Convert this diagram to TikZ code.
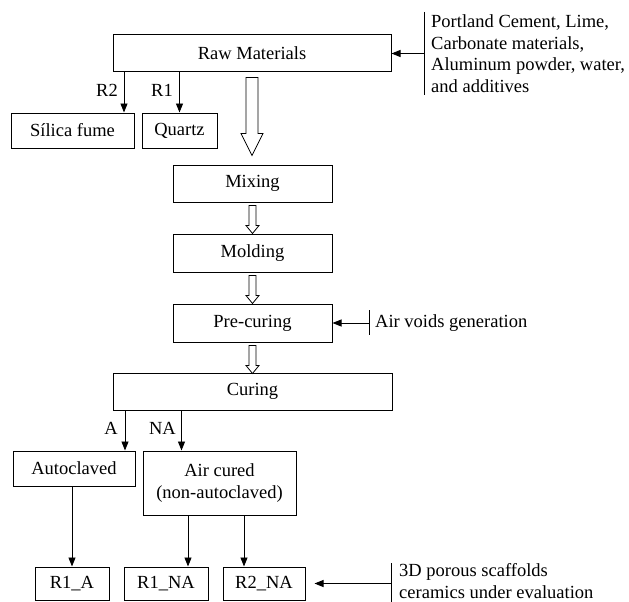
\documentclass[tikz,border=0pt]{standalone}
\usepackage{fontspec}
\setmainfont{Liberation Serif}
\usetikzlibrary{arrows.meta,calc}
\begin{document}
\begin{tikzpicture}[x=1pt,y=-1pt,
  every node/.style={font=\fontsize{18.5}{21.5}\selectfont},
  box/.style={draw,line width=1pt,inner sep=0pt,align=center},
  conn/.style={line width=0.8pt,-{Triangle[length=9pt,width=7pt]}},
  bar/.style={line width=1pt},
  lbl/.style={inner sep=0pt,anchor=east},
  side/.style={inner sep=0pt,anchor=west,align=left},
  pics/holarrow/.style n args={4}{code={\draw[line width=0.8pt] (-#1,0) -- (-#1,#3) -- (-#2,#3) -- (0,#4) -- (#2,#3) -- (#1,#3) -- (#1,0) -- cycle;}}]
\useasboundingbox (0,0) rectangle (629,602);

% boxes
\node[box,minimum width=278pt,minimum height=37pt] (raw) at (252,53.5) {Raw Materials};
\node[box,minimum width=123pt,minimum height=35pt] (silica) at (72.5,130.5) {Sílica fume};
\node[box,minimum width=75pt,minimum height=35pt] (quartz) at (179.5,130.5) {Quartz};
\node[box,minimum width=159pt,minimum height=37pt] (mixing) at (252.5,183.5) {Mixing};
\node[box,minimum width=159pt,minimum height=38pt] (molding) at (252.5,253) {Molding};
\node[box,minimum width=159pt,minimum height=38pt] (precuring) at (252.5,323) {Pre-curing};
\node[box,minimum width=279pt,minimum height=37pt] (curing) at (252.5,391.5) {Curing};
\node[box,minimum width=122pt,minimum height=35pt] (autoclaved) at (74,468.5) {Autoclaved};
\node[box,minimum width=153pt,minimum height=64pt] (aircured) at (219.5,483) {Air cured\\(non-autoclaved)};
\node[box,minimum width=74pt,minimum height=33pt] (r1a) at (72,583.5) {R1\_A};
\node[box,minimum width=84pt,minimum height=33pt] (r1na) at (166,583.5) {R1\_NA};
\node[box,minimum width=82pt,minimum height=33pt] (r2na) at (264,583.5) {R2\_NA};

% raw material inputs
\coordinate (in1top) at (424,12);
\coordinate (in1bot) at (424,95);
\coordinate (in1) at (424,53.5);
\draw[bar] (in1top) -- (in1bot);
\draw[conn] (in1) -- (raw.east);
\node[side] (inputs) at (431,53.5) {Portland Cement, Lime,\\Carbonate materials,\\Aluminum powder, water,\\and additives};

% R2 / R1 branches
\coordinate (r2s) at (124,72);
\draw[conn] (r2s) -- (r2s |- silica.north);
\draw[conn] (quartz.north |- raw.south) -- (quartz.north);
\node[lbl] (r2l) at (118,90) {R2};
\node[lbl] (r1l) at (173,90) {R1};

% hollow arrows
\pic (h1) at ($(raw.south)+(0,5)$) {holarrow={6}{11}{56}{78}};
\pic (h2) at ($(mixing.south)+(0,3)$) {holarrow={3.5}{6.5}{20}{28}};
\pic (h3) at ($(molding.south)+(0,3)$) {holarrow={3.5}{6.5}{20}{28}};
\pic (h4) at ($(precuring.south)+(0,3)$) {holarrow={3.5}{6.5}{20}{28}};

% air voids
\coordinate (avtop) at (369,310);
\coordinate (avbot) at (369,335);
\coordinate (av) at (369,323);
\draw[bar] (avtop) -- (avbot);
\draw[conn] (av) -- (precuring.east);
\node[side] (voids) at (375,323) {Air voids generation};

% curing branches
\coordinate (ca) at (125,410);
\coordinate (cna) at (181.5,410);
\draw[conn] (ca) -- (ca |- autoclaved.north);
\draw[conn] (cna) -- (cna |- aircured.north);
\node[lbl] (al) at (118,428) {A};
\node[lbl] (nal) at (176,428) {NA};

% to samples
\draw[conn] (r1a.north |- autoclaved.south) -- (r1a.north);
\coordinate (a1) at (188,515);
\coordinate (a2) at (244,515);
\draw[conn] (a1) -- (a1 |- r1na.north);
\draw[conn] (a2) -- (a2 |- r2na.north);

% evaluation
\coordinate (evtop) at (391,563);
\coordinate (evbot) at (391,605);
\coordinate (ev) at (391,583.5);
\draw[bar] (evtop) -- (evbot);
\draw[conn,shorten >=9pt] (ev) -- (r2na.east);
\node[side] (eval) at (399,581) {3D porous scaffolds\\ceramics under evaluation};
\end{tikzpicture}
\end{document}
